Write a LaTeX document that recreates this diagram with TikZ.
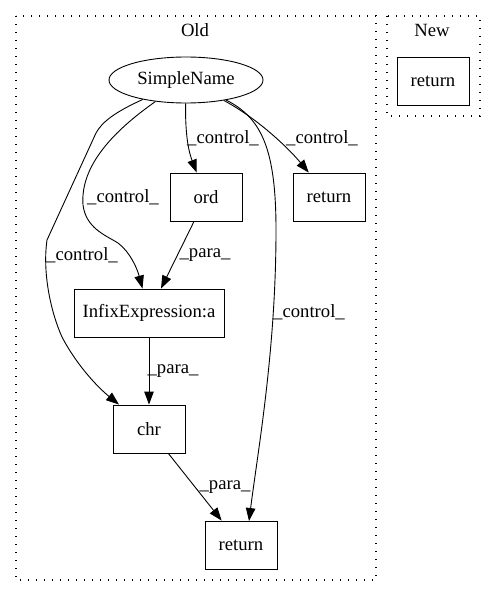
\documentclass[tikz,border=0pt]{standalone}
\usepackage{fontspec}
\setmainfont{Liberation Serif}
\usetikzlibrary{arrows.meta,shapes.geometric}
\begin{document}
\begin{tikzpicture}[x=1pt,y=-1pt,
  every node/.style={font=\fontsize{18.67}{22}\selectfont},
  box/.style={draw,line width=0.9pt,minimum width=72pt,minimum height=48pt,inner sep=0pt},
  ell/.style={draw,ellipse,line width=0.9pt,minimum width=154pt,minimum height=46pt,inner sep=0pt},
  cluster/.style={draw,line width=1.3pt,dash pattern=on 1.3pt off 6.7pt},
  edge/.style={draw,line width=0.9pt,-{Triangle[length=13pt,width=9.5pt]}},
  lab/.style={inner sep=0pt}]
\useasboundingbox (0,0) rectangle (496,596);
% clusters
\draw[cluster] (16,16) rectangle (376,580);
\draw[cluster] (387,16) rectangle (480,116);
\node[lab] (oldlab) at (195,30) {Old};
\node[lab] (newlab) at (432,30) {New};
% nodes
\node[box] (newret) at (433,81) {return};
\node[ell] (sn) at (186,80) {SimpleName};
\node[box] (ord) at (206,197) {ord};
\node[box] (rt) at (329,197) {return};
\node[box,minimum width=150pt] (inf) at (149,313) {InfixExpression:a};
\node[box] (chr) at (149,429) {chr};
\node[box] (rb) at (241,545) {return};
\coordinate (rbin) at (249,521);
% edges
\draw[edge] (sn) .. controls (115,112) and (102,122) .. (96,133) -- (47,240)
   .. controls (42,275) and (52,315) .. (62,337) .. controls (75,362) and (95,385) .. (chr);
\draw[edge] (sn) .. controls (115,130) and (80,165) .. (83,205)
   .. controls (86,228) and (105,235) .. (118,243) .. controls (130,252) and (137,268) .. (inf);
\draw[edge] (sn) .. controls (185,140) and (190,155) .. (ord);
\draw[edge] (sn) .. controls (260,120) and (290,150) .. (rt);
\draw[edge] (sn) .. controls (262,118) and (276,150) .. (276,230)
   .. controls (276,350) and (258,450) .. (rbin);
\draw[edge] (ord) -- (inf);
\draw[edge] (inf) -- (chr);
\draw[edge] (chr) -- (rb);
% labels
\node[lab] (l1) at (82,255) {\_control\_};
\node[lab] (l2) at (123,197) {\_control\_};
\node[lab] (l3) at (223,138) {\_control\_};
\node[lab] (l4) at (322,138) {\_control\_};
\node[lab] (l5) at (309,312) {\_control\_};
\node[lab] (l6) at (205,255) {\_para\_};
\node[lab] (l7) at (173,371) {\_para\_};
\node[lab] (l8) at (225,487) {\_para\_};
\end{tikzpicture}
\end{document}
